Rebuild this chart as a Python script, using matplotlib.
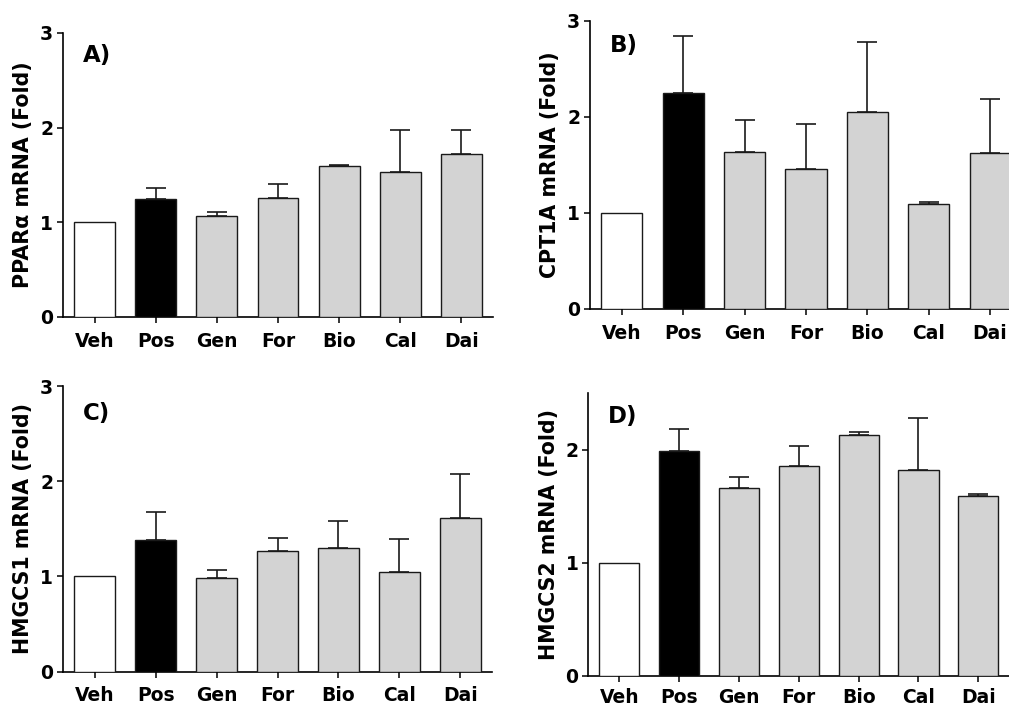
import numpy as np
import matplotlib
matplotlib.use("Agg")
import matplotlib.pyplot as plt

# wide bold sans: closest to the stretched Arial of the original figure
plt.rcParams["font.family"] = ["DejaVu Sans"]
plt.rcParams["font.weight"] = "bold"

groups = ["Veh", "Pos", "Gen", "For", "Bio", "Cal", "Dai"]

ppara_mean = [1.0, 1.25, 1.07, 1.26, 1.60, 1.53, 1.72]
ppara_sem = [0.0, 0.11, 0.035, 0.14, 0.005, 0.445, 0.255]

cpt1a_mean = [1.0, 2.245, 1.63, 1.455, 2.055, 1.09, 1.62]
cpt1a_sem = [0.0, 0.60, 0.34, 0.47, 0.72, 0.025, 0.57]

hmgcs1_mean = [1.0, 1.38, 0.98, 1.27, 1.30, 1.05, 1.61]
hmgcs1_sem = [0.0, 0.295, 0.09, 0.135, 0.28, 0.345, 0.465]

hmgcs2_mean = [1.0, 1.99, 1.66, 1.855, 2.13, 1.825, 1.59]
hmgcs2_sem = [0.0, 0.19, 0.10, 0.175, 0.025, 0.455, 0.02]

bar_colors = ["white", "black"] + ["#d3d3d3"] * 5

W, H = 1009, 706
fig = plt.figure(figsize=(W / 100, H / 100), dpi=100)


def px_axes(left, right, top, bottom):
    # pixel box -> figure fraction
    return [left / W, 1 - bottom / H, (right - left) / W, (bottom - top) / H]


panels = [
    # (box, means, sems, ylabel, letter, ymax, letter pos, xtick pad)
    (px_axes(63, 493, 33, 317), ppara_mean, ppara_sem,
     "PPAR\u03b1 mRNA (Fold)", "A)", 3, (0.047, 0.899), 6.5),
    (px_axes(590, 1022, 20.7, 309), cpt1a_mean, cpt1a_sem,
     "CPT1A mRNA (Fold)", "B)", 3, (0.046, 0.892), 6.5),
    (px_axes(63, 492, 386, 671.7), hmgcs1_mean, hmgcs1_sem,
     "HMGCS1 mRNA (Fold)", "C)", 3, (0.046, 0.881), 6),
    (px_axes(588.3, 1009.4, 393.3, 675.7), hmgcs2_mean, hmgcs2_sem,
     "HMGCS2 mRNA (Fold)", "D)", 2.5, (0.0475, 0.894), 4.5),
]

x = np.arange(len(groups))
for box, means, sems, ylabel, letter, ymax, lpos, xpad in panels:
    ax = fig.add_axes(box)
    ax.bar(x, means, width=0.67, color=bar_colors, edgecolor="#1a1a1a",
           linewidth=1.0, zorder=3)
    m = np.array(means[1:])
    e = np.array(sems[1:])
    ax.errorbar(x[1:], m, yerr=[np.zeros_like(e), e], fmt="none",
                ecolor="#1a1a1a", elinewidth=1.2, capsize=7.5,
                capthick=1.2, zorder=2)
    ax.set_xlim(-0.52, 6.52)
    ax.set_ylim(0, ymax)
    ax.set_yticks([0, 1, 2, 3] if ymax >= 3 else [0, 1, 2])
    ax.set_xticks(x)
    ax.set_xticklabels(groups)
    for s in ["top", "right"]:
        ax.spines[s].set_visible(False)
    for s in ["left", "bottom"]:
        ax.spines[s].set_linewidth(1.2)
    ax.tick_params(axis="both", length=4, width=1.1, labelsize=13.5)
    ax.tick_params(axis="x", pad=xpad)
    ax.tick_params(axis="y", pad=3)
    ax.set_ylabel(ylabel, fontsize=14.8, fontweight="bold", labelpad=5)
    ax.text(lpos[0], lpos[1], letter, transform=ax.transAxes,
            fontsize=16.5, fontweight="bold", va="baseline", ha="left")

fig.savefig("out.png", dpi=100)
